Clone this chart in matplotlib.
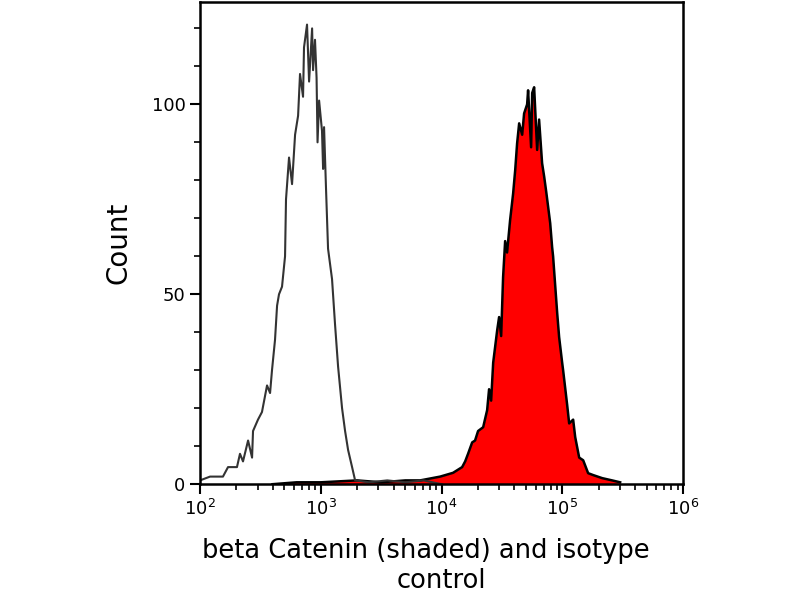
import numpy as np
import matplotlib
matplotlib.use("Agg")
import matplotlib.pyplot as plt
from matplotlib.ticker import LogLocator, MultipleLocator, NullFormatter

# isotype control (outline only), x as log10 of fluorescence
iso_log = [2.000, 2.083, 2.190, 2.232, 2.306, 2.331, 2.356, 2.398, 2.431, 2.439,
           2.480, 2.513, 2.555, 2.580, 2.596, 2.621, 2.638, 2.654, 2.679, 2.704,
           2.712, 2.737, 2.762, 2.787, 2.812, 2.828, 2.853, 2.861, 2.886, 2.903,
           2.928, 2.936, 2.952, 2.965, 2.973, 2.986, 3.010, 3.019, 3.027, 3.043,
           3.060, 3.093, 3.118, 3.143, 3.176, 3.201, 3.226, 3.259, 3.284, 3.40,
           3.55, 3.70, 3.85, 4.00]
iso_count = [1, 2, 2, 4.5, 4.5, 8, 6, 11.5, 7, 14,
             17, 19, 26, 24, 30, 38, 47, 50, 52, 60,
             75, 86, 79, 92, 97, 108, 102, 115, 121, 106,
             120, 109, 117, 107, 90, 101, 93, 83, 94, 78,
             62, 54, 42, 31, 20, 14, 9, 4.5, 1, 0.5,
             1, 0.5, 1, 0]

# beta Catenin (shaded)
bc_log = [2.60, 2.80, 3.00, 3.30, 3.50, 3.70, 3.822, 3.988, 4.095, 4.170,
          4.195, 4.219, 4.253, 4.277, 4.302, 4.344, 4.377, 4.393, 4.410, 4.427,
          4.460, 4.476, 4.493, 4.509, 4.526, 4.542, 4.567, 4.592, 4.609, 4.625,
          4.642, 4.667, 4.683, 4.708, 4.716, 4.741, 4.750, 4.766, 4.791, 4.807,
          4.832, 4.849, 4.866, 4.882, 4.899, 4.915, 4.923, 4.932, 4.957, 4.973,
          4.998, 5.006, 5.039, 5.056, 5.089, 5.106, 5.139, 5.172, 5.213, 5.255,
          5.329, 5.412, 5.478]
bc_count = [0, 0.5, 0.5, 1, 0.5, 1, 1, 2, 3, 4.5,
            6, 8, 11, 11.5, 14, 15, 19.5, 25, 22, 32,
            40.5, 44, 39, 54.5, 64, 61, 69.5, 76.5, 82.6, 89.7,
            95, 92, 97.6, 100, 103.7, 88.7, 103, 104.5, 88, 96,
            84.5, 81, 77, 73, 68.7, 62.4, 60, 56, 45, 38.7,
            32, 30, 21, 16, 17, 12.4, 7, 6.3, 2.9, 2.4,
            1.6, 1, 0.5]

iso_x = 10 ** np.array(iso_log)
bc_x = 10 ** np.array(bc_log)

fig = plt.figure(figsize=(8, 6), dpi=100)
ax = fig.add_axes([0.25, 0.193, 0.604, 0.804])

ax.fill_between(bc_x, 0, bc_count, color="#ff0000", linewidth=0)
ax.plot(bc_x, bc_count, color="black", lw=1.8)
ax.plot(iso_x, iso_count, color="#333333", lw=1.5)

ax.set_xscale("log")
ax.set_xlim(1e2, 1e6)
ax.set_ylim(0, 127)
ax.xaxis.set_major_locator(LogLocator(base=10, numticks=10))
ax.xaxis.set_minor_locator(LogLocator(base=10, subs=np.arange(2, 10), numticks=20))
ax.xaxis.set_minor_formatter(NullFormatter())
ax.yaxis.set_major_locator(MultipleLocator(50))
ax.yaxis.set_minor_locator(MultipleLocator(10))

for s in ax.spines.values():
    s.set_linewidth(1.8)
ax.tick_params(which="major", direction="out", length=7, width=1.5, labelsize=13)
ax.tick_params(which="minor", direction="out", length=4, width=1.2)

ax.set_ylabel("Count", fontsize=20, labelpad=14)
ax.set_xlabel("beta Catenin (shaded) and isotype    \ncontrol", fontsize=18.5,
              linespacing=1.2, labelpad=14)

fig.savefig("out.png", dpi=100)
